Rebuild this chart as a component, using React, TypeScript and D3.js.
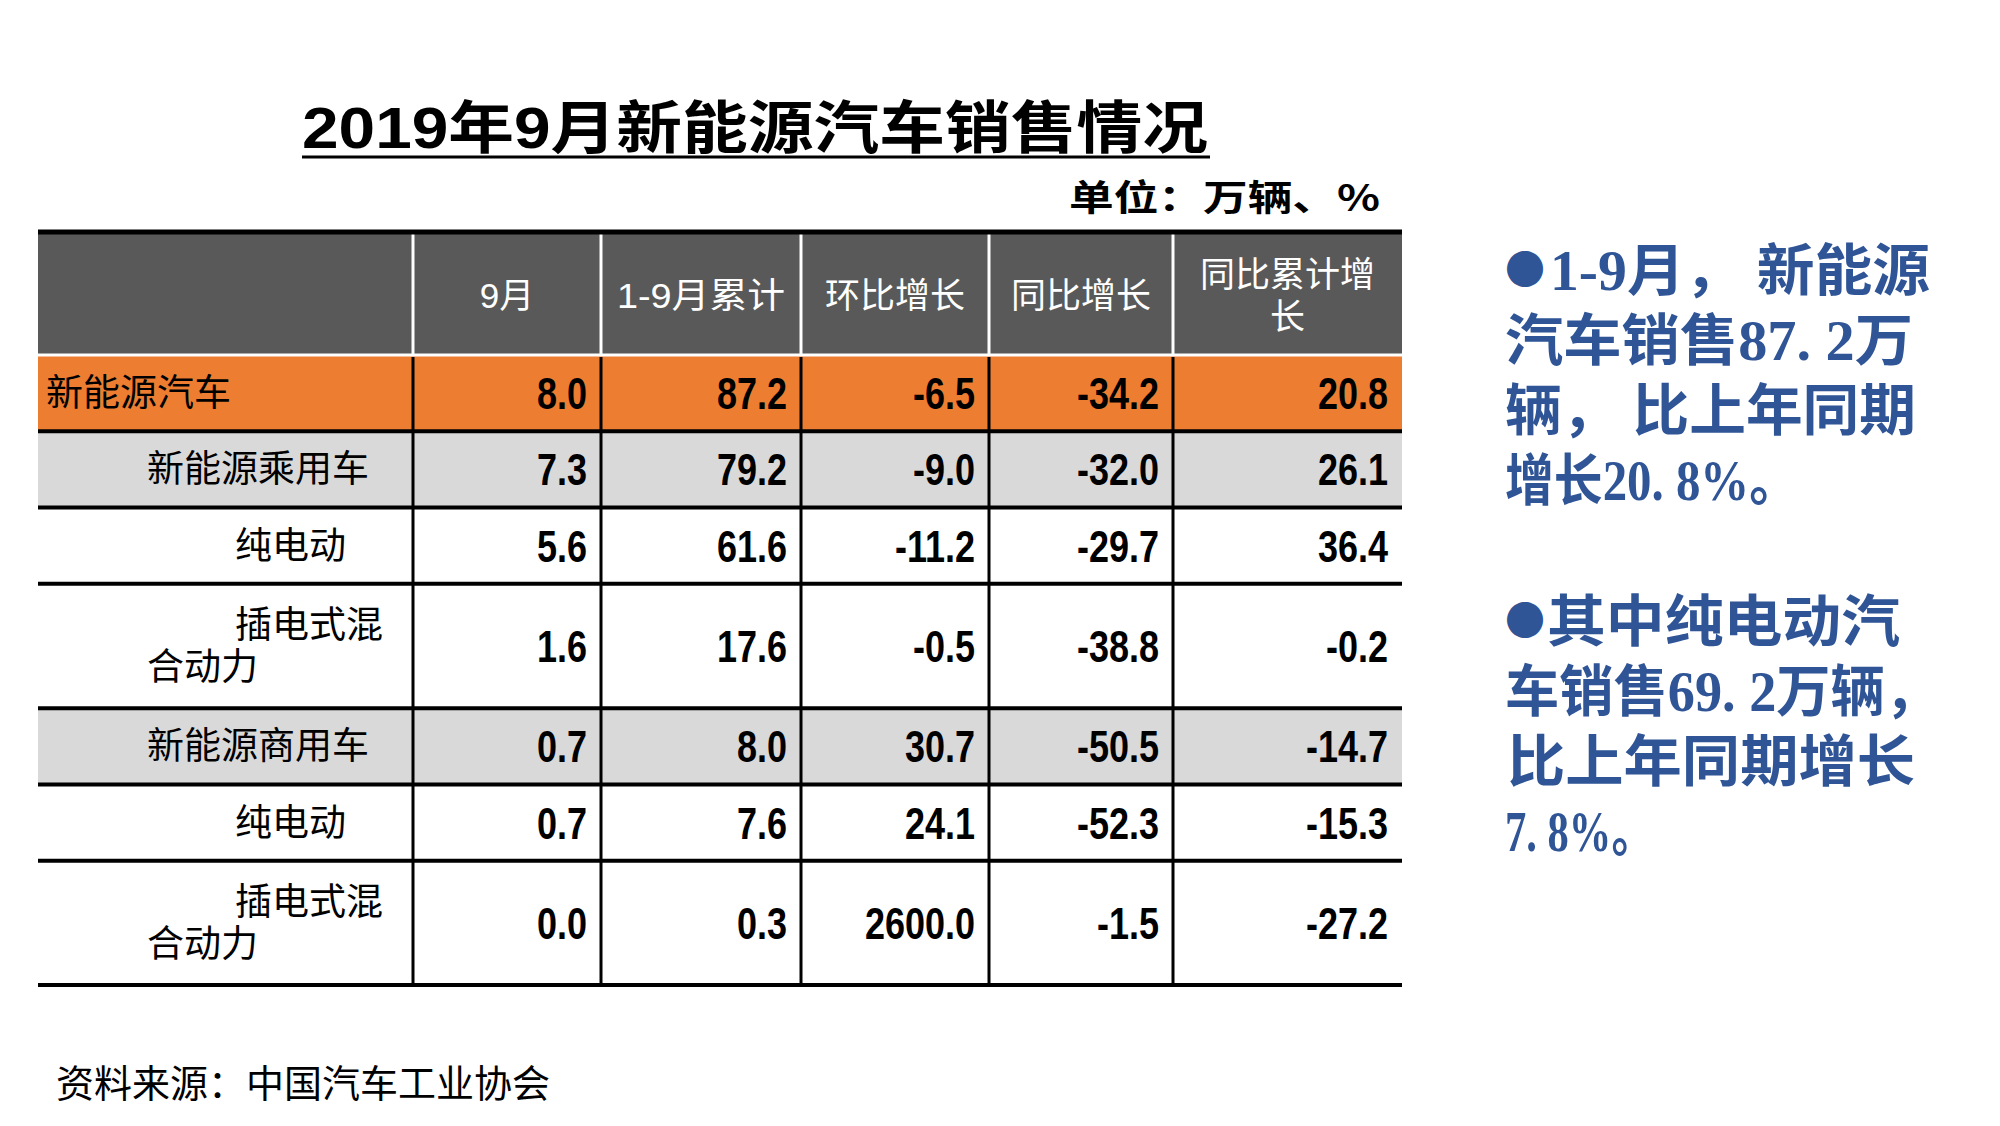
import React from "react";
import * as d3 from "d3";

// ---------- data ----------
const title = "2019年9月新能源汽车销售情况";
const unitLabel = "单位：万辆、%";
const sourceLabel = "资料来源：中国汽车工业协会";
const headerLines = [["9月"], ["1-9月累计"], ["环比增长"], ["同比增长"], ["同比累计增", "长"]];
const categories = [
  "新能源汽车",
  "新能源乘用车",
  "纯电动",
  "插电式混合动力",
  "新能源商用车",
  "纯电动",
  "插电式混合动力",
];
const levels = [0, 1, 2, 2, 1, 2, 2];
const septSales = [8.0, 7.3, 5.6, 1.6, 0.7, 0.7, 0.0];
const ytdSales = [87.2, 79.2, 61.6, 17.6, 8.0, 7.6, 0.3];
const momGrowth = [-6.5, -9.0, -11.2, -0.5, 30.7, 24.1, 2600.0];
const yoyGrowth = [-34.2, -32.0, -29.7, -38.8, -50.5, -52.3, -1.5];
const ytdYoyGrowth = [20.8, 26.1, 36.4, -0.2, -14.7, -15.3, -27.2];
const bullet = "●";
const notes1 = ["1-9月，  新能源", "汽车销售87. 2万", "辆，  比上年同期", "增长20. 8%。"];
const notes2 = ["其中纯电动汽", "车销售69. 2万辆，", "比上年同期增长", "7. 8%。"];

// ---------- layout ----------
const W = 2000;
const H = 1126;
const colEdges = [38, 413, 601, 801, 989, 1173, 1402];
const tableTop = 232;
const headerBottom = 355;
const tableBottom = 985;
const notes1Spans = [[1550, 380], [1505, 408], [1505, 411], [1505, 293]];
const notes2Spans = [[1547, 353], [1505, 434], [1507, 408], [1505, 149]];
const ORANGE = "#ED7D31";
const GRAY = "#D9D9D9";
const HEADER = "#595959";
const BLUE = "#2F5597";
const CJK = "'Noto Sans CJK SC', 'Noto Sans', sans-serif";
const NUM = "'Liberation Sans', Arial, sans-serif";
const NOTE = "'Liberation Serif', 'Noto Sans CJK SC', serif";
const HEAD_FONT = "'Liberation Sans', 'Noto Sans CJK SC', sans-serif";

export default function App() {
  const columns = [septSales, ytdSales, momGrowth, yoyGrowth, ytdYoyGrowth];
  const labelLines = categories.map((c, i) =>
    levels[i] === 2 && c.length > 4 ? [c.slice(0, 4), c.slice(4)] : [c]
  );
  const units = labelLines.map((l) => (l.length > 1 ? 1.63 : 1));
  const cum = [0, ...d3.cumsum(units)];
  const y = d3
    .scaleLinear()
    .domain([0, cum[cum.length - 1]])
    .range([headerBottom, tableBottom]);
  const x = d3
    .scaleOrdinal<number, number>()
    .domain(d3.range(colEdges.length))
    .range(colEdges);
  const f1 = d3.format(".1f");
  const fmt = (v: number) => f1(v).replace("\u2212", "-");
  const rowFill = (lv: number) => (lv === 0 ? ORANGE : lv === 1 ? GRAY : "#FFFFFF");
  const indentX = [46, 147, 235];
  const HFS = 35;

  const noteBlock = (lines: string[], spans: number[][], y0: number, key: string) => (
    <g key={key}>
      <text x={1505} y={y0 - 6} fontFamily={CJK} fontSize={40} fill={BLUE}>
        {bullet}
      </text>
      {lines.map((t, i) => (
        <text
          key={i}
          x={spans[i][0]}
          y={y0 + i * 70}
          fontFamily={NOTE}
          fontWeight={700}
          fontSize={56}
          fill={BLUE}
          textLength={spans[i][1]}
          lengthAdjust="spacingAndGlyphs"
        >
          {t}
        </text>
      ))}
    </g>
  );

  return (
    <svg
      width={W}
      height={H}
      style={{ position: "absolute", left: 0, top: 0, background: "#fff" }}
    >
      <rect x={0} y={0} width={W} height={H} fill="#fff" />
      {/* title */}
      <text
        x={302}
        y={148}
        fontFamily={`'Liberation Sans', ${CJK}`}
        fontWeight={700}
        fontSize={57}
        textLength={906}
        lengthAdjust="spacingAndGlyphs"
        fill="#000"
      >
        {title}
      </text>
      <line x1={302} x2={1210} y1={157} y2={157} stroke="#000" strokeWidth={3} />
      <text
        x={1380}
        y={211}
        textAnchor="end"
        fontFamily={CJK}
        fontWeight={700}
        fontSize={36}
        textLength={311}
        lengthAdjust="spacingAndGlyphs"
        fill="#000"
      >
        {unitLabel}
      </text>

      {/* header */}
      <rect
        x={colEdges[0]}
        y={tableTop}
        width={colEdges[6] - colEdges[0]}
        height={headerBottom - tableTop}
        fill={HEADER}
      />
      {headerLines.map((lines, i) => {
        const x0 = x(i + 1);
        const x1 = x(i + 2);
        const cx = (x0 + x1) / 2;
        const mid = (tableTop + headerBottom) / 2 + 2;
        const hasAscii = /[0-9]/.test(lines[0]);
        return (
          <text key={`h${i}`} textAnchor="middle" fontFamily={HEAD_FONT} fontSize={HFS} fill="#fff">
            {lines.map((ln, j) => (
              <tspan
                key={j}
                x={cx}
                y={mid + 12 + (j - (lines.length - 1) / 2) * 42}
                textLength={hasAscii && ln.length > 4 ? 168 : undefined}
                lengthAdjust={hasAscii && ln.length > 4 ? "spacingAndGlyphs" : undefined}
              >
                {ln}
              </tspan>
            ))}
          </text>
        );
      })}
      {d3.range(1, 6).map((i) => (
        <line
          key={`hv${i}`}
          x1={x(i)}
          x2={x(i)}
          y1={tableTop}
          y2={headerBottom}
          stroke="#fff"
          strokeWidth={3}
        />
      ))}

      {/* body rows */}
      {categories.map((c, r) => (
        <rect
          key={`bg${r}`}
          x={colEdges[0]}
          y={y(cum[r])}
          width={colEdges[6] - colEdges[0]}
          height={y(cum[r + 1]) - y(cum[r])}
          fill={rowFill(levels[r])}
        />
      ))}
      {categories.map((c, r) => {
        const cy = (y(cum[r]) + y(cum[r + 1])) / 2;
        const lines = labelLines[r];
        return (
          <g key={`row${r}`}>
            <text fontFamily={CJK} fontSize={37} fill="#000">
              {lines.map((ln, j) => (
                <tspan
                  key={j}
                  x={j === 0 ? indentX[levels[r]] : indentX[1]}
                  y={cy + 13 + (j - (lines.length - 1) / 2) * 42}
                >
                  {ln}
                </tspan>
              ))}
            </text>
            {columns.map((col, k) => (
              <g
                key={k}
                transform={`translate(${x(k + 2) - 14},${cy + 16}) scale(0.8,1)`}
              >
                <text
                  x={0}
                  y={0}
                  textAnchor="end"
                  fontFamily={NUM}
                  fontWeight={700}
                  fontSize={45}
                  fill="#000"
                >
                  {fmt(col[r])}
                </text>
              </g>
            ))}
          </g>
        );
      })}
      {/* body vertical lines */}
      {d3.range(1, 6).map((i) => (
        <line
          key={`bv${i}`}
          x1={x(i)}
          x2={x(i)}
          y1={headerBottom + 2}
          y2={tableBottom}
          stroke="#000"
          strokeWidth={3}
        />
      ))}
      {/* horizontal lines */}
      <line x1={colEdges[0]} x2={colEdges[6]} y1={tableTop} y2={tableTop} stroke="#000" strokeWidth={5} />
      <line x1={colEdges[0]} x2={colEdges[6]} y1={headerBottom} y2={headerBottom} stroke="#fff" strokeWidth={3} />
      {cum.slice(1).map((u, i) => (
        <line
          key={`hl${i}`}
          x1={colEdges[0]}
          x2={colEdges[6]}
          y1={y(u)}
          y2={y(u)}
          stroke="#000"
          strokeWidth={4}
        />
      ))}

      {/* notes */}
      {noteBlock(notes1, notes1Spans, 290, "n1")}
      {noteBlock(notes2, notes2Spans, 641, "n2")}

      {/* source */}
      <text x={56} y={1097} fontFamily={CJK} fontSize={38} fill="#000">
        {sourceLabel}
      </text>
    </svg>
  );
}
